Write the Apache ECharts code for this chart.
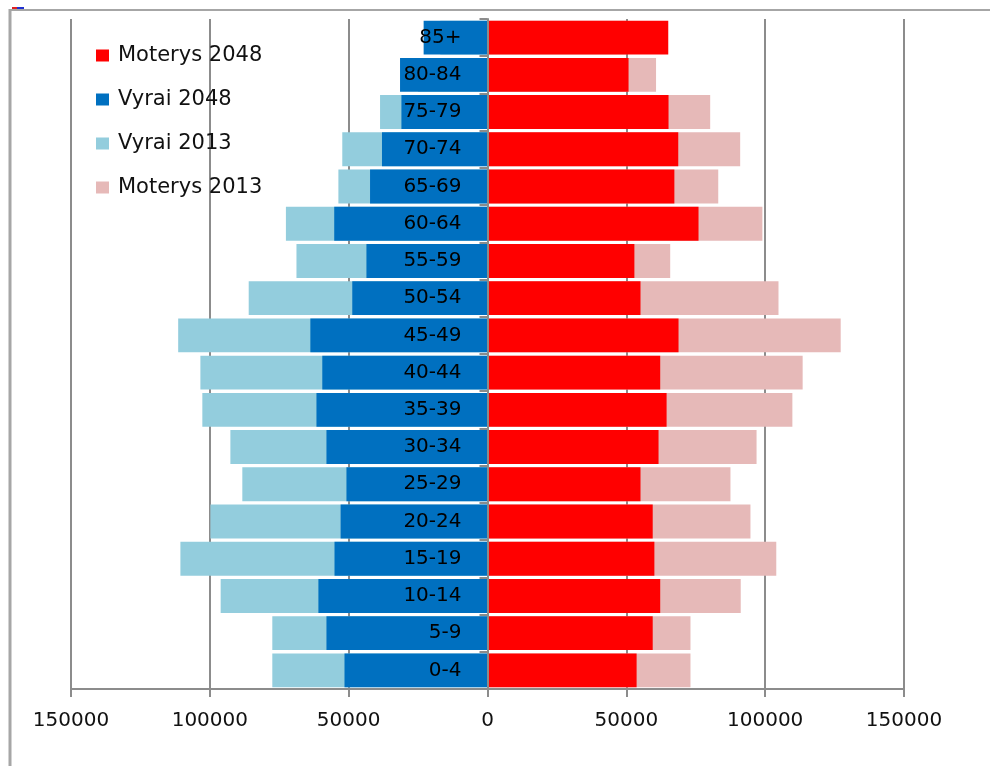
<!DOCTYPE html>
<html>
<head>
<meta charset="utf-8">
<title>Gyventojų piramidė 2013 ir 2048</title>
<script src="https://cdn.jsdelivr.net/npm/echarts@6/dist/echarts.min.js"></script>
<style>
  html, body { margin: 0; padding: 0; background: #fff; }
  #chart { width: 990px; height: 766px; }
</style>
</head>
<body>
<div id="chart"></div>
<script>
// Age groups, youngest first (the category axis runs bottom-up)
const ageGroups = ['0-4', '5-9', '10-14', '15-19', '20-24', '25-29', '30-34', '35-39', '40-44',
  '45-49', '50-54', '55-59', '60-64', '65-69', '70-74', '75-79', '80-84', '85+'];

// Population by age group
const vyrai2048 = [51500, 58000, 60900, 55100, 52900, 50800, 58000, 61600, 59500,
  63800, 48700, 43600, 55200, 42300, 38000, 31000, 31500, 23000];
const vyrai2013 = [77500, 77500, 96100, 110600, 99800, 88300, 92600, 102700, 103400,
  111400, 86000, 68800, 72600, 53700, 52300, 38700, 25000, 17000];
const moterys2048 = [53700, 59500, 62200, 60100, 59500, 55100, 61600, 64500, 62200,
  68800, 55100, 52900, 76000, 67300, 68700, 65200, 50800, 65100];
const moterys2013 = [73100, 73100, 91200, 104000, 94700, 87500, 96900, 109800, 113500,
  127200, 104800, 65800, 99000, 83100, 91000, 80200, 60700, 50000];

// Value axis ticks
const axisMin = -150000;
const axisMax = 150000;
const axisStep = 50000;

const legendOrder = ['Moterys 2048', 'Vyrai 2048', 'Vyrai 2013', 'Moterys 2013'];

const FONT = '"DejaVu Sans", Verdana, sans-serif';
const GRID_LEFT = 71;
const GRID_RIGHT = 86;
const PLOT_W = 990 - GRID_LEFT - GRID_RIGHT;

const chart = echarts.init(document.getElementById('chart'), null, { renderer: 'canvas' });

function barSeries(name, values, color, sign) {
  return {
    name: name,
    type: 'bar',
    data: values.map(v => sign * v),
    barWidth: '91%',
    barGap: '-100%',
    itemStyle: { color: color },
    emphasis: { disabled: true },
    animation: false
  };
}

chart.setOption({
  backgroundColor: '#ffffff',
  animation: false,
  grid: {
    left: GRID_LEFT, right: GRID_RIGHT, top: 19, bottom: 77,
    containLabel: false, outerBoundsMode: 'none'
  },
  legend: {
    data: legendOrder,
    orient: 'vertical',
    left: 96,
    top: 45,
    padding: 0,
    itemWidth: 13,
    itemHeight: 12,
    itemGap: 23,
    icon: 'rect',
    selectedMode: false,
    textStyle: {
      fontFamily: FONT,
      fontSize: 21,
      lineHeight: 20,
      color: '#111',
      padding: [0, 0, 0, 4]
    }
  },
  xAxis: {
    type: 'value',
    min: axisMin,
    max: axisMax,
    interval: axisStep,
    axisLine: { show: true, onZero: false, lineStyle: { color: '#8c8c8c', width: 2 } },
    axisTick: { show: true, length: 8, lineStyle: { color: '#8c8c8c', width: 2 } },
    splitLine: { show: true, lineStyle: { color: '#8c8c8c', width: 2 } },
    axisLabel: {
      formatter: v => String(Math.abs(v)),
      fontFamily: FONT,
      fontSize: 20,
      color: '#111',
      margin: 22
    }
  },
  yAxis: [
    {
      // age labels, placed just left of the centre line over the bars
      type: 'category',
      data: ageGroups,
      z: 10,
      axisLine: { show: false, onZero: false },
      axisTick: { show: false },
      splitLine: { show: false },
      axisLabel: {
        inside: true,
        align: 'right',
        margin: PLOT_W / 2 - 26,
        fontFamily: FONT,
        fontSize: 20,
        color: '#000'
      }
    },
    {
      // centre axis line with its ticks, shifted from the left edge to value 0
      type: 'category',
      data: ageGroups,
      position: 'left',
      offset: -PLOT_W / 2,
      z: 9,
      axisLine: { show: true, onZero: false, lineStyle: { color: '#8c8c8c', width: 2 } },
      axisTick: { show: true, length: 8, lineStyle: { color: '#8c8c8c', width: 2 } },
      axisLabel: { show: false },
      splitLine: { show: false }
    }
  ],
  series: [
    barSeries('Vyrai 2013', vyrai2013, '#93CDDD', -1),
    barSeries('Moterys 2013', moterys2013, '#E6B9B8', 1),
    barSeries('Vyrai 2048', vyrai2048, '#0070C0', -1),
    barSeries('Moterys 2048', moterys2048, '#FF0000', 1)
  ],
  graphic: [
    // chart area frame
    { type: 'line', silent: true, shape: { x1: 10, y1: 10, x2: 990, y2: 10 },
      style: { stroke: '#a6a6a6', lineWidth: 2 } },
    { type: 'line', silent: true, shape: { x1: 10, y1: 9, x2: 10, y2: 766 },
      style: { stroke: '#a6a6a6', lineWidth: 3 } },
    { type: 'rect', silent: true, shape: { x: 12, y: 7, width: 5, height: 2 },
      style: { fill: '#e02020' } },
    { type: 'rect', silent: true, shape: { x: 17, y: 7, width: 7, height: 2 },
      style: { fill: '#2030d0' } }
  ]
});
</script>
</body>
</html>
